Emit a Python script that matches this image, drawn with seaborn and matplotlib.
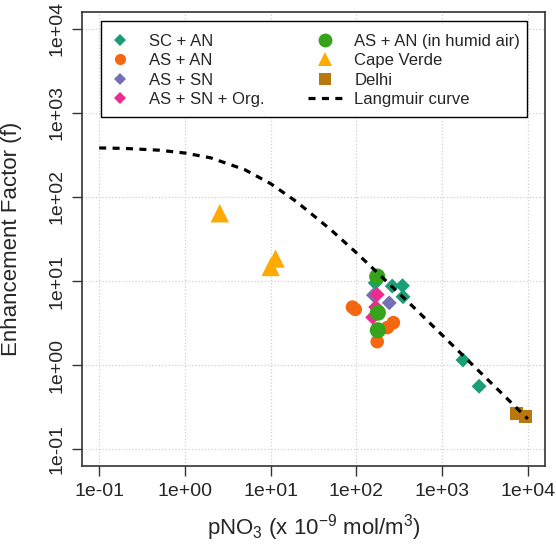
import numpy as np
import pandas as pd
import matplotlib as mpl
import matplotlib.pyplot as plt
import seaborn as sns
from matplotlib.lines import Line2D
from matplotlib.patches import Rectangle

sns.set_style('white')
plt.rcParams['font.family'] = ['Liberation Sans', 'DejaVu Sans']
plt.rcParams['mathtext.fontset'] = 'custom'
plt.rcParams['mathtext.rm'] = 'Liberation Sans'
plt.rcParams['mathtext.default'] = 'regular'

# values
sc_an_x = [166, 262, 345, 350, 1750, 2700]
sc_an_y = [9.5, 8.7, 8.8, 6.5, 1.15, 0.56]
as_an_x = [90, 97, 270, 230, 175]
as_an_y = [4.9, 4.6, 3.2, 2.8, 1.9]
as_sn_x = [158, 242]
as_sn_y = [6.8, 5.5]
as_sn_org_x = [175, 168, 155]
as_sn_org_y = [6.9, 4.9, 3.7]
humid_x = [175, 178, 178]
humid_y = [11.3, 4.2, 2.6]
cape_verde_x = [2.55, 11.4, 10.0]
cape_verde_y = [64, 18.5, 14.7]
delhi_x = [7450, 9500]
delhi_y = [0.268, 0.247]

langmuir_x = [0.1, 0.2, 0.5, 1, 2, 5, 10, 20, 50, 100, 200, 500, 1000, 2000, 5000, 10000]
langmuir_y = [383, 378, 360, 333, 292, 211, 144, 88, 41, 21.7, 11.1, 4.54, 2.28, 1.14, 0.458, 0.229]

tick_vals = [1e-1, 1e0, 1e1, 1e2, 1e3, 1e4]
tick_labels = ['1e-01', '1e+00', '1e+01', '1e+02', '1e+03', '1e+04']

groups = ['SC + AN', 'AS + AN', 'AS + SN', 'AS + SN + Org.',
          'AS + AN (in humid air)', 'Cape Verde', 'Delhi']
xs = [sc_an_x, as_an_x, as_sn_x, as_sn_org_x, humid_x, cape_verde_x, delhi_x]
ys = [sc_an_y, as_an_y, as_sn_y, as_sn_org_y, humid_y, cape_verde_y, delhi_y]

colors = {'SC + AN': '#1B9E77', 'AS + AN': '#F4660F', 'AS + SN': '#7570B3',
          'AS + SN + Org.': '#EE2A8F', 'AS + AN (in humid air)': '#35A31C',
          'Cape Verde': '#FFAA00', 'Delhi': '#B8780E'}
markers = {'SC + AN': 'D', 'AS + AN': 'o', 'AS + SN': 'D', 'AS + SN + Org.': 'D',
           'AS + AN (in humid air)': 'o', 'Cape Verde': '^', 'Delhi': 's'}
sizes = {'SC + AN': 58, 'AS + AN': 95, 'AS + SN': 58, 'AS + SN + Org.': 58,
         'AS + AN (in humid air)': 135, 'Cape Verde': 175, 'Delhi': 88}
leg_ms = {'SC + AN': 6, 'AS + AN': 8, 'AS + SN': 6, 'AS + SN + Org.': 6,
          'AS + AN (in humid air)': 10, 'Cape Verde': 10, 'Delhi': 8.5}

df = pd.DataFrame({
    'x': np.concatenate(xs),
    'y': np.concatenate(ys),
    'group': np.repeat(groups, [len(v) for v in xs]),
})
curve = pd.DataFrame({'x': langmuir_x, 'y': langmuir_y})

fig = plt.figure(figsize=(5.56, 5.44), dpi=100)
ax = fig.add_axes([82 / 556, 78 / 544, 463 / 556, 454 / 544])
ax.set_xscale('log')
ax.set_yscale('log')

for t in tick_vals:
    ax.axvline(t, color='#D0D0D0', lw=0.9, ls=':', zorder=0)
    ax.axhline(t, color='#D0D0D0', lw=0.9, ls=':', zorder=0)

for g in groups:
    sub = df[df['group'] == g]
    sns.scatterplot(data=sub, x='x', y='y', color=colors[g], marker=markers[g],
                    s=sizes[g], edgecolor='none', linewidth=0, ax=ax, zorder=3)

sns.lineplot(data=curve, x='x', y='y', color='black', lw=2.3, ax=ax, zorder=4)
ax.lines[-1].set_dashes((2.2, 2.0))

ax.set_xlim(10 ** -1.2, 10 ** 4.2)
ax.set_ylim(10 ** -1.2, 10 ** 4.2)
ax.xaxis.set_major_locator(mpl.ticker.FixedLocator(tick_vals))
ax.yaxis.set_major_locator(mpl.ticker.FixedLocator(tick_vals))
ax.xaxis.set_minor_locator(mpl.ticker.NullLocator())
ax.yaxis.set_minor_locator(mpl.ticker.NullLocator())
ax.set_xticklabels(tick_labels, fontsize=14)
ax.set_yticklabels(tick_labels, fontsize=14, rotation=90, va='center')
ax.tick_params(axis='both', which='major', length=7, width=1, color='#333333',
               pad=5, direction='out', bottom=True, left=True)
for sp in ax.spines.values():
    sp.set_color('#333333')
    sp.set_linewidth(1.2)

ax.set_xlabel(r'pNO$_3$ (x 10$^{-9}$ mol/m$^3$)', fontsize=16, labelpad=9)
ax.set_ylabel('Enhancement Factor (f)', fontsize=16, labelpad=19)

handles = []
for g in groups:
    handles.append(Line2D([], [], ls='none', marker=markers[g], color=colors[g],
                          markersize=leg_ms[g], markeredgewidth=0))
handles.append(Line2D([], [], color='black', lw=2.3, dashes=(2.2, 2.0)))
labels = groups + ['Langmuir curve']

# legend box drawn on its own, R style
ax.add_patch(Rectangle((19 / 463, 1 - 105 / 454), 426 / 463, 96 / 454,
                       transform=ax.transAxes, fill=True, facecolor='white',
                       edgecolor='black', lw=1.0, zorder=5))
leg = ax.legend(handles, labels, ncol=2, loc='upper left',
                bbox_to_anchor=(21 / 463, 1 - 22 / 454, 417 / 463, 0.0),
                mode='expand', fontsize=12, frameon=False,
                borderpad=0, labelspacing=0.26, handlelength=2.0,
                handletextpad=0.75, borderaxespad=0)
leg.set_zorder(6)

fig.savefig('out.png', dpi=100)
